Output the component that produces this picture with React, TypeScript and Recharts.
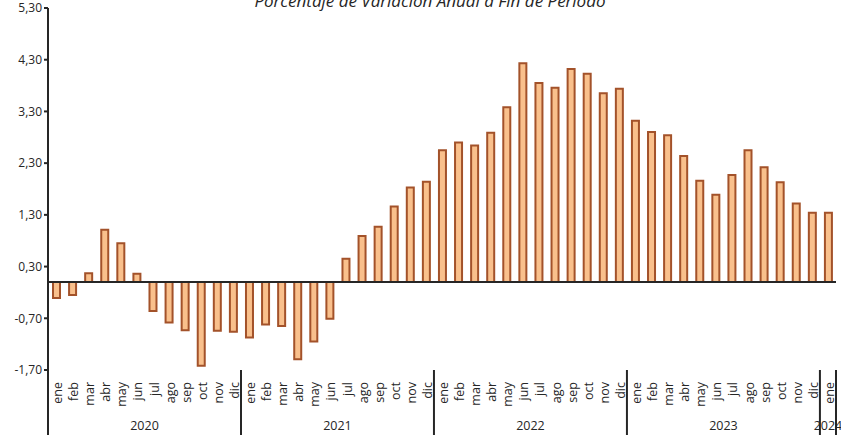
import React from 'react';
import { BarChart, Bar, XAxis, YAxis, ReferenceLine } from 'recharts';

const MONTHS = ['ene', 'feb', 'mar', 'abr', 'may', 'jun', 'jul', 'ago', 'sep', 'oct', 'nov', 'dic'];

const years = ['2020', '2021', '2022', '2023', '2024'];

// variación anual (%), ene 2020 .. ene 2024
const values2020 = [-0.31, -0.25, 0.17, 1.01, 0.75, 0.16, -0.56, -0.78, -0.93, -1.62, -0.94, -0.96];
const values2021 = [-1.07, -0.82, -0.85, -1.49, -1.15, -0.71, 0.45, 0.89, 1.07, 1.46, 1.83, 1.94];
const values2022 = [2.55, 2.7, 2.64, 2.89, 3.38, 4.23, 3.85, 3.76, 4.12, 4.03, 3.65, 3.74];
const values2023 = [3.12, 2.9, 2.84, 2.44, 1.96, 1.69, 2.07, 2.55, 2.22, 1.93, 1.52, 1.34];
const values2024 = [1.34];

const yTicks = [-1.7, -0.7, 0.3, 1.3, 2.3, 3.3, 4.3, 5.3];

const seriesByYear = [values2020, values2021, values2022, values2023, values2024];

const data = seriesByYear.flatMap((vals, yi) =>
  vals.map((v, mi) => ({
    key: `${years[yi]}-${mi}`,
    month: MONTHS[mi],
    year: years[yi],
    monthIndex: mi,
    count: vals.length,
    value: v,
  }))
);

const W = 841;
const H = 439;
const LEFT = 48;
const RIGHT = 5;
const BAND = (W - LEFT - RIGHT) / data.length;

const fmt = (v: number) => v.toFixed(2).replace('.', ',');

const MonthTick = (props: any) => {
  const { x, y, payload } = props;
  const d = data[payload.index];
  if (!d) return null;
  const top = y - 8;
  const els: React.ReactNode[] = [];
  els.push(
    <text
      key="m"
      x={0}
      y={0}
      transform={`translate(${x + 6},${top + 12}) rotate(-90)`}
      textAnchor="end"
      fontSize={12.5}
      fill="#262626"
      fontFamily="'Open Sans', sans-serif"
    >
      {d.month}
    </text>
  );
  if (d.monthIndex === 0) {
    els.push(<line key="s" x1={x - BAND / 2} x2={x - BAND / 2} y1={top} y2={435} stroke="#262626" strokeWidth={2} />);
  }
  if (payload.index === data.length - 1) {
    els.push(<line key="e" x1={x + BAND / 2} x2={x + BAND / 2} y1={top} y2={435} stroke="#262626" strokeWidth={2} />);
  }
  const mid = Math.floor((d.count - 1) / 2);
  if (d.monthIndex === mid) {
    const cx = d.count % 2 === 0 ? x + BAND / 2 : x;
    els.push(
      <text key="y" x={cx} y={top + 60} textAnchor="middle" fontSize={12.5} fill="#262626" fontFamily="'Open Sans', sans-serif">
        {d.year}
      </text>
    );
  }
  return <g>{els}</g>;
};

export default function App() {
  return (
    <div style={{ position: 'absolute', left: 0, top: 0, width: W, height: H, background: '#fff' }}>
      <BarChart width={W} height={H} data={data} margin={{ top: 8, right: RIGHT, bottom: 0, left: 0 }} barCategoryGap={0}>
        <XAxis
          dataKey="key"
          interval={0}
          height={69}
          axisLine={false}
          tickLine={false}
          tick={<MonthTick />}
        />
        <YAxis
          width={LEFT}
          domain={[-1.7, 5.3]}
          ticks={yTicks}
          interval={0}
          tickFormatter={fmt}
          axisLine={{ stroke: '#262626', strokeWidth: 2 }}
          tickLine={{ stroke: '#262626', strokeWidth: 2 }}
          tickSize={4}
          tick={{ fontSize: 12, fill: '#262626', fontFamily: "'Open Sans', sans-serif" }}
        />
        <Bar dataKey="value" barSize={7} fill="#F9C08C" stroke="#A3522A" strokeWidth={2} isAnimationActive={false} />
        <ReferenceLine y={0} stroke="#262626" strokeWidth={2} />
      </BarChart>
      <svg width={W} height={20} style={{ position: 'absolute', left: 0, top: 0 }}>
        <text x={430} y={7} textAnchor="middle" fontSize={17} fontStyle="italic" fill="#262626" fontFamily="'Open Sans', sans-serif">
          Porcentaje de Variación Anual a Fin de Período
        </text>
      </svg>
    </div>
  );
}
